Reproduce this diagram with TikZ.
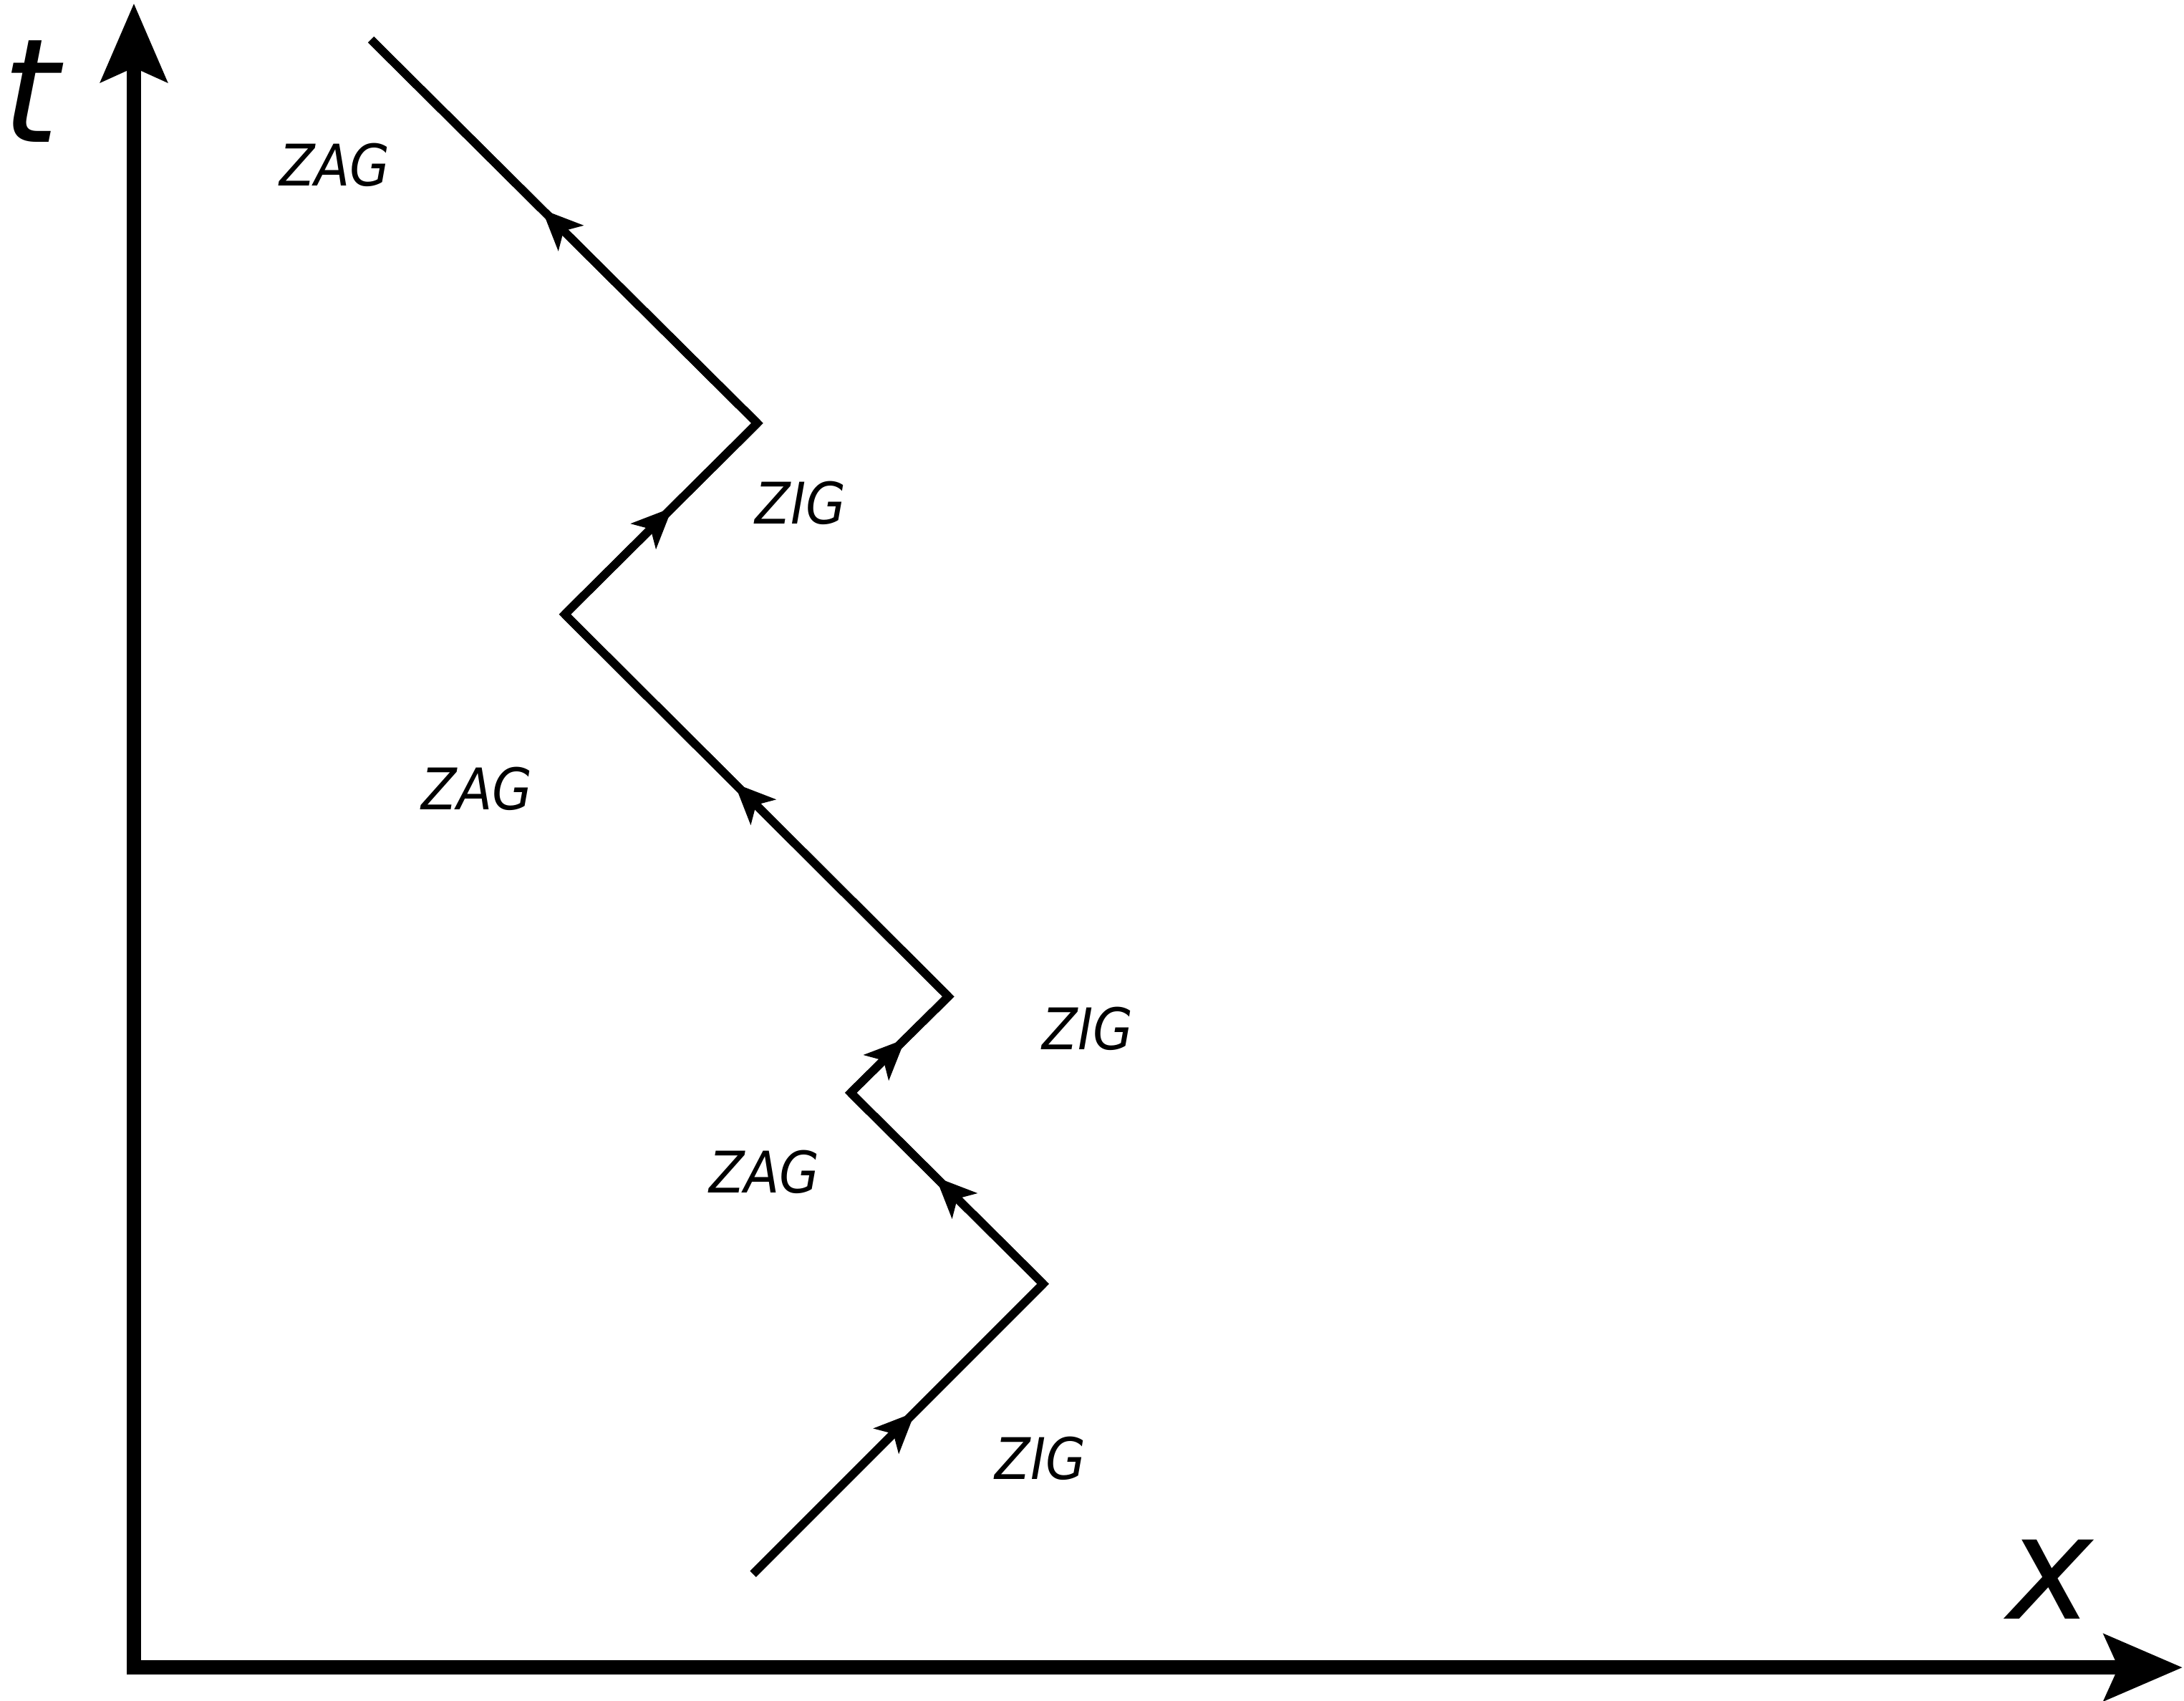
\documentclass[tikz,border=0pt]{standalone}
\usepackage{fontspec}
\newfontfamily\zzfont{DejaVu Sans Condensed}
\newfontfamily\axfont{DejaVu Sans}
\usepackage{tikz}
\usetikzlibrary{arrows.meta,decorations.markings,positioning}
\tikzset{
  axis/.style={line width=2.9pt, {Stealth[length=0.56cm,width=0.47cm,inset=0.1cm]}-{Stealth[length=0.56cm,width=0.47cm,inset=0.1cm]}},
  path/.style={line width=1.7pt, line join=miter},
  midarrow/.style={line width=1.7pt, postaction={decorate},
    decoration={markings, mark=at position 0.56 with {\arrow{Stealth[length=0.29cm,width=0.25cm,inset=0.07cm]}}}},
  zz/.style={font=\zzfont\itshape\fontsize{11.7pt}{14pt}\selectfont, inner sep=0pt},
  axlabel/.style={font=\axfont\itshape\fontsize{29.5pt}{34pt}\selectfont, inner sep=0pt}
}
\begin{document}
\begin{tikzpicture}
        \useasboundingbox (0,0) rectangle (15.66,12.194);
        % axes
        \coordinate (origin) at (0.96,0.24);
        \coordinate (ttip) at (0.96,12.17);
        \coordinate (xtip) at (15.65,0.24);
        \draw[axis] (ttip) -- (origin) -- (xtip);
        \node[axlabel] (tlabel) at (0.22,11.54) {t};
        \node[axlabel] (xlabel) at (14.70,0.87) {x};

        % zigzag corners
        \coordinate (p0) at (5.40,0.91);
        \coordinate (p1) at (7.48,2.99);
        \coordinate (p2) at (6.10,4.36);
        \coordinate (p3) at (6.80,5.05);
        \coordinate (p4) at (4.05,7.79);
        \coordinate (p5) at (5.43,9.16);
        \coordinate (p6) at (2.66,11.91);

        \draw[path] (p0) -- (p1) -- (p2) -- (p3) -- (p4) -- (p5) -- (p6);
        \draw[midarrow] (p0) -- (p1);
        \draw[midarrow] (p1) -- (p2);
        \draw[midarrow] (p2) -- (p3);
        \draw[midarrow] (p3) -- (p4);
        \draw[midarrow] (p4) -- (p5);
        \draw[midarrow] (p5) -- (p6);

        % labels
        \node[zz] (zag1) at (2.40,11.01) {ZAG};
        \node[zz] (zig1) at (5.74,8.59) {ZIG};
        \node[zz] (zag2) at (3.42,6.54) {ZAG};
        \node[zz] (zig2) at (7.80,4.82) {ZIG};
        \node[zz] (zag3) at (5.48,3.79) {ZAG};
        \node[zz] (zig3) at (7.46,1.74) {ZIG};
    \end{tikzpicture}
\end{document}
